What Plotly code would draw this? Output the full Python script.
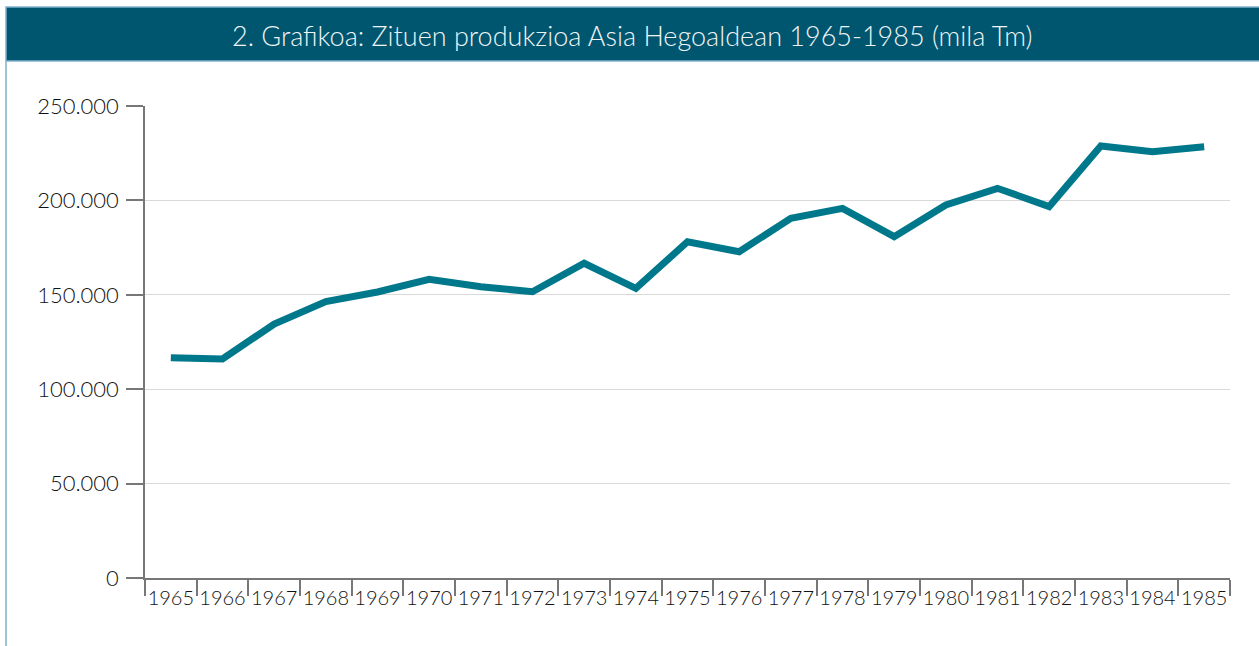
import plotly.graph_objects as go

years = [str(y) for y in range(1965, 1986)]
production = [116.7, 116.0, 134.5, 146.4, 151.5, 158.2, 154.3, 151.6, 166.7, 153.4,
              178.1, 172.8, 190.5, 195.8, 180.8, 197.6, 206.4, 196.7, 228.8, 225.8, 228.4]
production = [v * 1000 for v in production]
y_tickvals = [0, 50000, 100000, 150000, 200000, 250000]
y_ticktext = ["0", "50.000", "100.000", "150.000", "200.000", "250.000"]
title_text = "2. Grafikoa: Zituen produkzioa Asia Hegoaldean 1965-1985 (mila Tm)"

W, H = 1259, 646
L, R, T, B = 145, 29, 106, 68
PW, PH = W - L - R, H - T - B

def px(x):
    return (x - L) / PW

def py(y):
    return (H - B - y) / PH

FONT = "Lato"

fig = go.Figure()
fig.add_trace(go.Scatter(
    x=years, y=production, mode="lines",
    line=dict(color="#00788c", width=7),
    hoverinfo="x+y",
))

fig.update_layout(
    width=W, height=H,
    margin=dict(l=L, r=R, t=T, b=B),
    paper_bgcolor="white", plot_bgcolor="white",
    showlegend=False,
    font=dict(family=FONT, color="#111111", weight=300),
    shapes=[
        dict(type="rect", xref="paper", yref="paper",
             x0=px(6), x1=px(1262), y0=py(61), y1=py(7),
             fillcolor="#00566f", line=dict(color="#7fb0cc", width=1.5), layer="above"),
        dict(type="line", xref="paper", yref="paper",
             x0=px(6), x1=px(6), y0=py(61), y1=py(650),
             line=dict(color="#7fb0cc", width=1.5)),
    ],
    annotations=[
        dict(text=title_text, xref="paper", yref="paper",
             x=px(632), y=py(35), xanchor="center", yanchor="middle",
             showarrow=False, font=dict(family=FONT, size=27, color="#eef4f7", weight=300)),
    ],
)

fig.update_xaxes(
    type="category", range=[-0.5, len(years) - 0.5],
    tickson="boundaries", ticks="outside", ticklen=16, tickwidth=1.5, tickcolor="#777777",
    showline=True, linecolor="#777777", linewidth=1.5, tickangle=0,
    showgrid=False, tickfont=dict(family=FONT, size=20, color="#111111", weight=300),
    ticklabelstandoff=1,
)
fig.update_yaxes(
    range=[0, 250000], tickvals=y_tickvals, ticktext=y_ticktext,
    ticks="outside", ticklen=17, tickwidth=1.5, tickcolor="#777777",
    showline=True, linecolor="#777777", linewidth=1.5,
    showgrid=True, gridcolor="#d9d9d9", gridwidth=1, zeroline=False,
    tickfont=dict(family=FONT, size=22, color="#111111", weight=300),
    ticklabelstandoff=3,
)

fig.write_html("out.html", config={"displayModeBar": False},
               post_script="document.body.style.margin='0';")
